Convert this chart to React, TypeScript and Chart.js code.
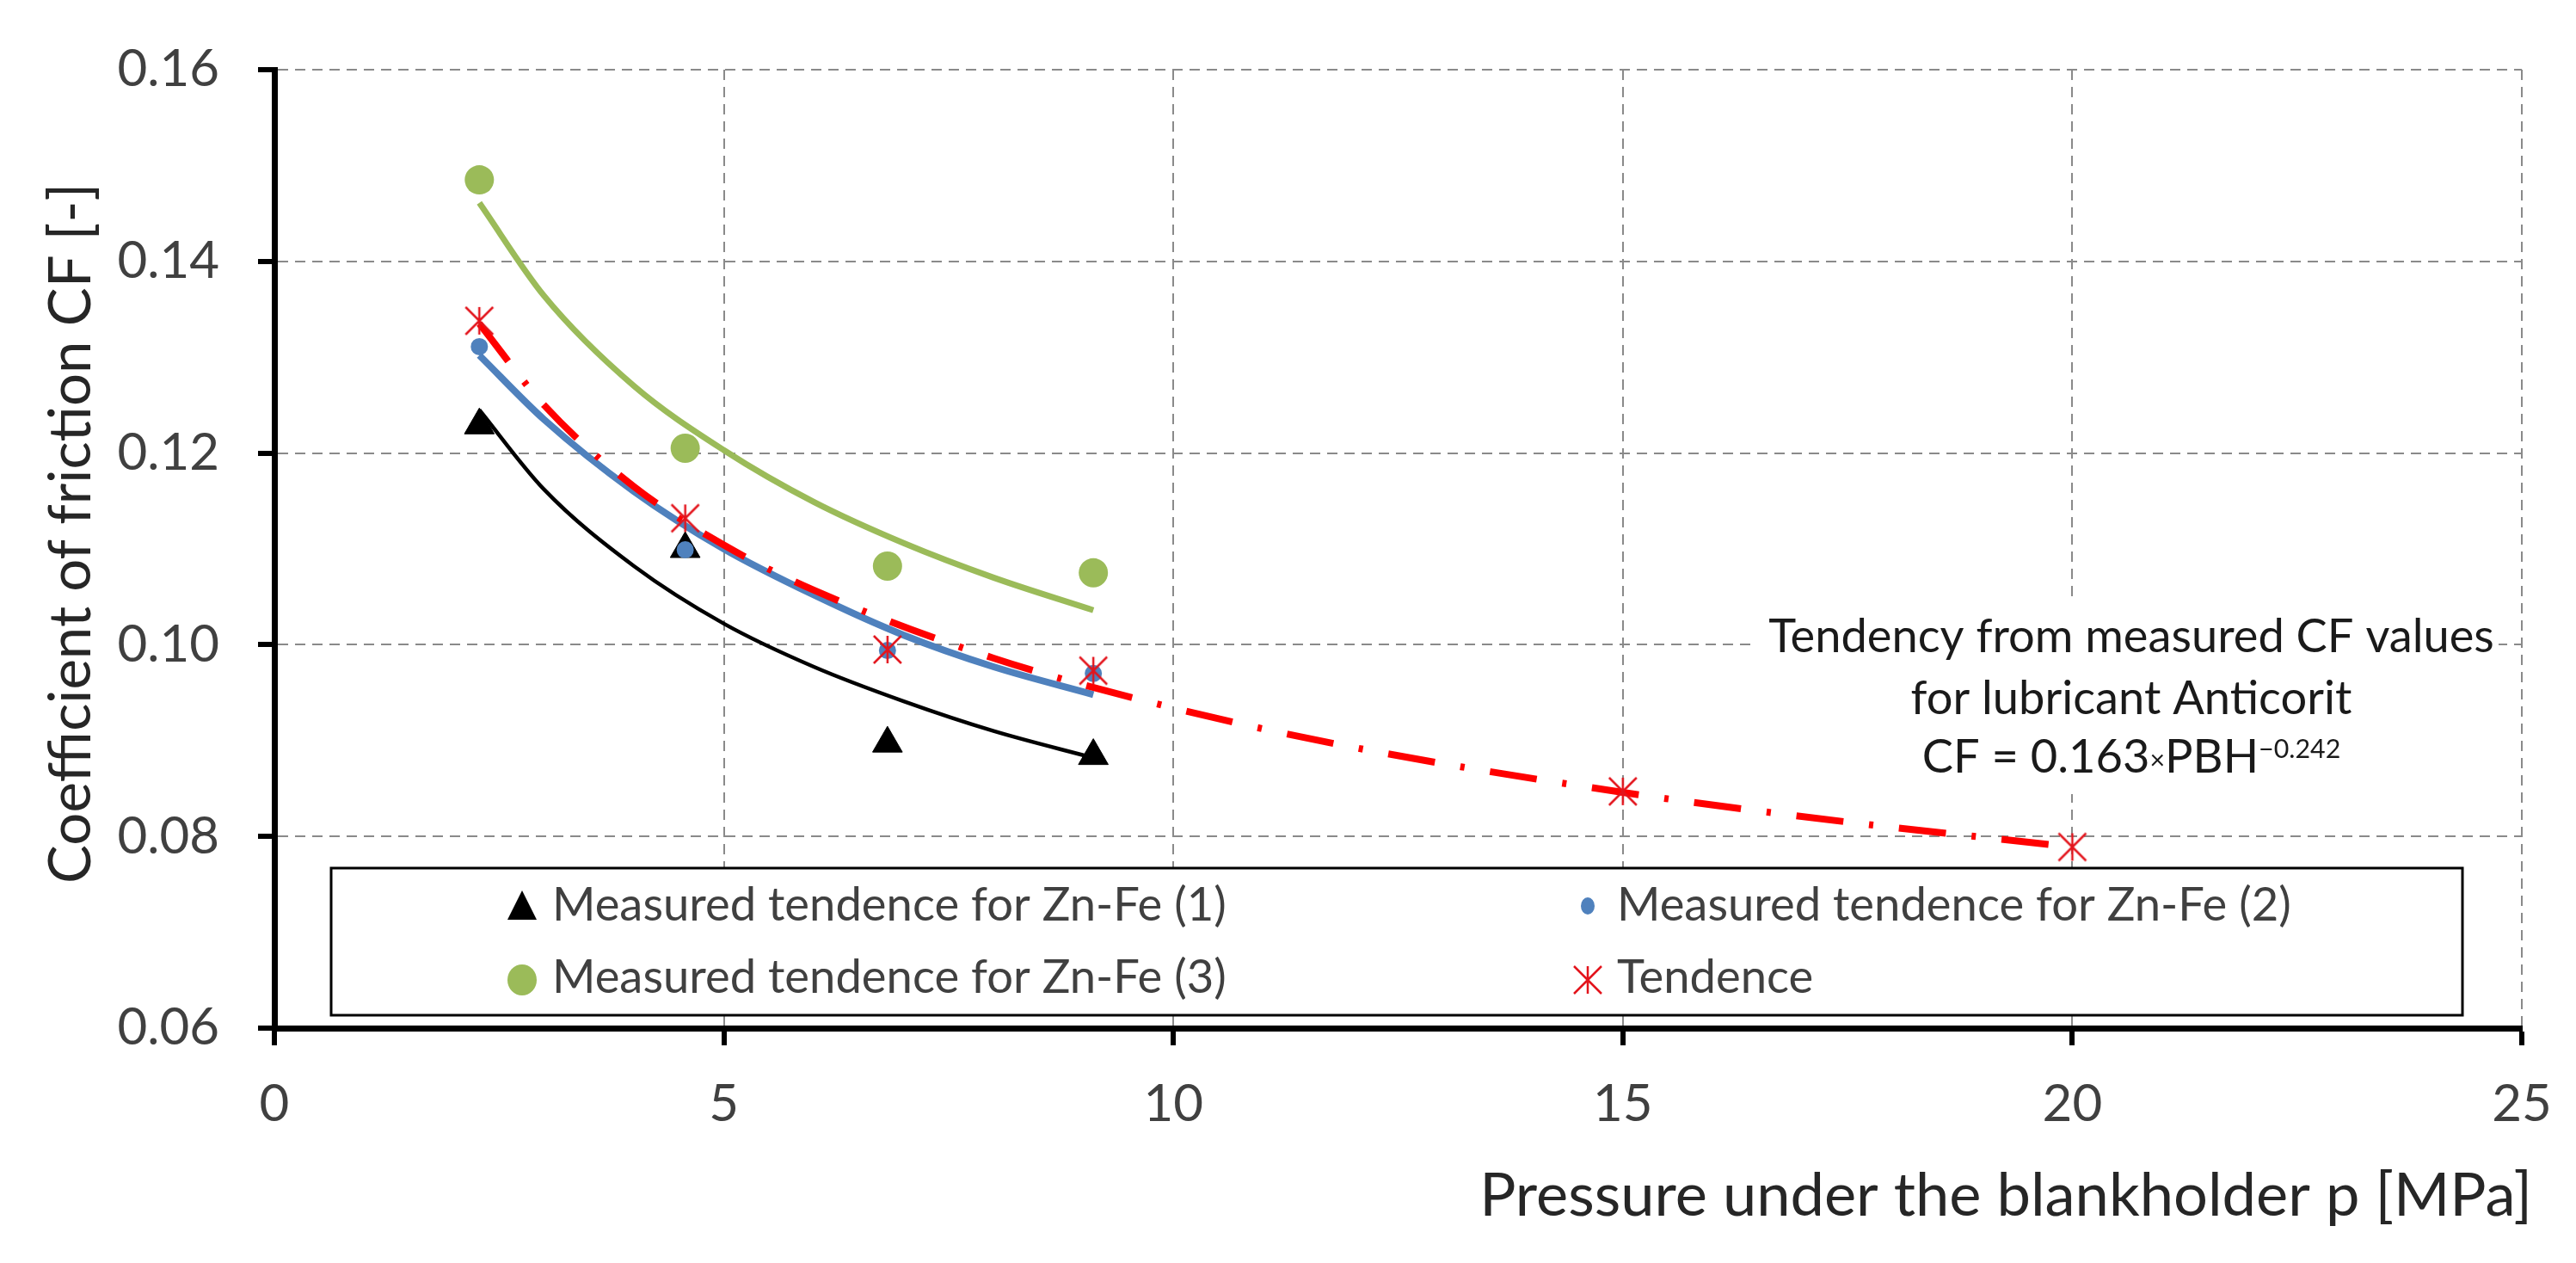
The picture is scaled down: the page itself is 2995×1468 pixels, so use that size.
import { useEffect, useRef } from "react";
import { Chart, ChartConfiguration, Plugin, registerables } from "chart.js";

Chart.register(...registerables);

const FONT = "Lato, 'Open Sans', sans-serif";

// measured CF values, pressure in MPa
const pressure = [2.28, 4.57, 6.82, 9.11];
const cfZnFe1 = [0.1229, 0.11, 0.0897, 0.0884];
const cfZnFe2 = [0.1311, 0.1099, 0.0994, 0.097];
const cfZnFe3 = [0.1485, 0.1205, 0.1082, 0.1075];

const tendencePressure = [2.28, 4.57, 6.82, 9.11, 15, 20];
const cfTendence = [0.1338, 0.1132, 0.0995, 0.0973, 0.0847, 0.0789];

// trend curves
const trendPressure = [2.28, 3, 4, 5, 6, 7, 8, 9.11];
const trendZnFe1 = [0.1245, 0.1162, 0.1082, 0.1022, 0.0977, 0.0941, 0.091, 0.0882];
const trendZnFe2 = [0.1302, 0.1235, 0.116, 0.11, 0.1052, 0.101, 0.0977, 0.0948];
const trendZnFe3 = [0.1461, 0.1364, 0.127, 0.1203, 0.1149, 0.1106, 0.107, 0.1036];
const tendenceLinePressure = [2.28, 3, 4, 5, 6, 8, 10, 12, 15, 17.5, 20];
const tendenceLine = [0.1335, 0.125, 0.1165, 0.1104, 0.1057, 0.0986, 0.0934, 0.0893, 0.0846, 0.0815, 0.0789];

const xTicks = [0, 5, 10, 15, 20, 25];
const yTicks = [0.06, 0.08, 0.1, 0.12, 0.14, 0.16];

const legendLabels = [
  "Measured tendence for Zn-Fe (1)",
  "Measured tendence for Zn-Fe (2)",
  "Measured tendence for Zn-Fe (3)",
  "Tendence",
];
const noteLines = ["Tendency from measured CF values", "for lubricant Anticorit"];
const xTitle = "Pressure under the blankholder p [MPa]";
const yTitle = "Coefficient of friction CF [-]";

const BLACK = "#000000";
const BLUE = "#4f81bd";
const GREEN = "#9bbb59";
const RED = "#ff0000";
const RED_MARK = "#e3141c";

function makeStar(size: number, color: string) {
  const c = document.createElement("canvas");
  c.width = size;
  c.height = size;
  const g = c.getContext("2d")!;
  g.strokeStyle = color;
  g.lineWidth = 2.5;
  const m = 2;
  g.beginPath();
  g.moveTo(size / 2, m);
  g.lineTo(size / 2, size - m);
  g.moveTo(m, m);
  g.lineTo(size - m, size - m);
  g.moveTo(size - m, m);
  g.lineTo(m, size - m);
  g.stroke();
  return c;
}

// font size that makes `text` about `width` px wide
function fitSize(c: CanvasRenderingContext2D, text: string, width: number) {
  c.font = `100px ${FONT}`;
  return (100 * width) / c.measureText(text).width;
}

const pts = (xs: number[], ys: number[]) => xs.map((x, i) => ({ x, y: ys[i] }));

export default function App() {
  const canvasRef = useRef<HTMLCanvasElement>(null);
  const chartRef = useRef<Chart | null>(null);

  useEffect(() => {
    if (!canvasRef.current) return;
    if (chartRef.current) chartRef.current.destroy();
    const ctx = canvasRef.current.getContext("2d");
    if (!ctx) return;

    const star = makeStar(36, RED_MARK);

    const decor: Plugin = {
      id: "decor",
      afterDatasetsDraw(chart) {
        const c = chart.ctx;
        c.save();

        // equation note
        c.fillStyle = "#fff";
        c.fillRect(2037, 693, 868, 230);
        c.fillStyle = "#1a1a1a";
        c.textBaseline = "alphabetic";
        const noteSize = fitSize(c, noteLines[0], 844);
        c.font = `${noteSize}px ${FONT}`;
        c.textAlign = "center";
        c.fillText(noteLines[0], 2478, 758);
        c.fillText(noteLines[1], 2478, 830);
        const small = noteSize * 0.56;
        const parts = [
          { t: "CF = 0.163", s: noteSize, dy: 0 },
          { t: "×", s: small, dy: -4 },
          { t: "PBH", s: noteSize, dy: 0 },
          { t: "\u22120.242", s: small, dy: -17 },
        ];
        let total = 0;
        parts.forEach((p) => {
          c.font = `${p.s}px ${FONT}`;
          total += c.measureText(p.t).width;
        });
        let px = 2478 - total / 2;
        c.textAlign = "left";
        parts.forEach((p) => {
          c.font = `${p.s}px ${FONT}`;
          c.fillText(p.t, px, 898 + p.dy);
          px += c.measureText(p.t).width;
        });

        // legend box
        c.fillStyle = "#fff";
        c.fillRect(385, 1009, 2478, 171);
        c.strokeStyle = "#000";
        c.lineWidth = 3;
        c.strokeRect(385, 1009, 2478, 171);

        const rows = [1053, 1139];
        const cols = [607, 1846];
        // triangle
        c.fillStyle = BLACK;
        c.beginPath();
        c.moveTo(cols[0], rows[0] - 18);
        c.lineTo(cols[0] + 17, rows[0] + 16);
        c.lineTo(cols[0] - 17, rows[0] + 16);
        c.closePath();
        c.fill();
        // blue dot
        c.fillStyle = BLUE;
        c.beginPath();
        c.ellipse(cols[1], rows[0], 8, 10, 0, 0, Math.PI * 2);
        c.fill();
        // green dot
        c.fillStyle = GREEN;
        c.beginPath();
        c.ellipse(cols[0], rows[1], 17, 18, 0, 0, Math.PI * 2);
        c.fill();
        // star
        c.drawImage(star, cols[1] - 18, rows[1] - 18);

        c.fillStyle = "#404040";
        c.font = `${fitSize(c, legendLabels[0], 784)}px ${FONT}`;
        c.textAlign = "left";
        c.fillText(legendLabels[0], 642, 1070);
        c.fillText(legendLabels[1], 1880, 1070);
        c.fillText(legendLabels[2], 642, 1154);
        c.fillText(legendLabels[3], 1880, 1154);

        c.restore();
      },
      afterDraw(chart) {
        const c = chart.ctx;
        c.save();
        c.fillStyle = "#262626";
        c.font = `${fitSize(c, xTitle, 1224)}px ${FONT}`;
        c.textAlign = "right";
        c.textBaseline = "alphabetic";
        c.fillText(xTitle, 2944, 1413);

        c.font = `${fitSize(c, yTitle, 814)}px ${FONT}`;
        c.translate(105, 620);
        c.rotate(-Math.PI / 2);
        c.textAlign = "center";
        c.fillText(yTitle, 0, 0);
        c.restore();
      },
    };

    const config: ChartConfiguration<"scatter"> = {
      type: "scatter",
      data: {
        datasets: [
          {
            label: legendLabels[3],
            data: pts(tendencePressure, cfTendence),
            pointStyle: star,
            pointRadius: 18,
            backgroundColor: RED_MARK,
            borderColor: RED_MARK,
          },
          {
            label: "Tendence trend",
            data: pts(tendenceLinePressure, tendenceLine),
            showLine: true,
            pointRadius: 0,
            borderColor: RED,
            borderWidth: 8,
            borderDash: [55, 30, 5, 30],
            borderCapStyle: "butt",
            cubicInterpolationMode: "monotone",
          },
          {
            label: legendLabels[1],
            data: pts(pressure, cfZnFe2),
            pointStyle: "circle",
            pointRadius: 10,
            backgroundColor: BLUE,
            borderColor: BLUE,
            borderWidth: 0,
          },
          {
            label: "Zn-Fe (2) trend",
            data: pts(trendPressure, trendZnFe2),
            showLine: true,
            pointRadius: 0,
            borderColor: BLUE,
            borderWidth: 8,
            cubicInterpolationMode: "monotone",
          },
          {
            label: legendLabels[2],
            data: pts(pressure, cfZnFe3),
            pointStyle: "circle",
            pointRadius: 17,
            backgroundColor: GREEN,
            borderColor: GREEN,
            borderWidth: 0,
          },
          {
            label: "Zn-Fe (3) trend",
            data: pts(trendPressure, trendZnFe3),
            showLine: true,
            pointRadius: 0,
            borderColor: GREEN,
            borderWidth: 7,
            cubicInterpolationMode: "monotone",
          },
          {
            label: legendLabels[0],
            data: pts(pressure, cfZnFe1),
            pointStyle: "triangle",
            pointRadius: 20,
            backgroundColor: BLACK,
            borderColor: BLACK,
            borderWidth: 1,
          },
          {
            label: "Zn-Fe (1) trend",
            data: pts(trendPressure, trendZnFe1),
            showLine: true,
            pointRadius: 0,
            borderColor: BLACK,
            borderWidth: 4.5,
            cubicInterpolationMode: "monotone",
          },
        ],
      },
      options: {
        responsive: false,
        devicePixelRatio: 1,
        animation: false,
        layout: { padding: { top: 45, right: 63, left: 0, bottom: 0 } },
        plugins: {
          legend: { display: false },
          tooltip: { enabled: false },
        },
        scales: {
          x: {
            type: "linear",
            min: 0,
            max: 25,
            afterBuildTicks: (s) => {
              s.ticks = xTicks.map((v) => ({ value: v }));
            },
            afterFit: (s) => {
              s.height = 273;
            },
            ticks: {
              color: "#404040",
              font: { family: FONT, size: 60, lineHeight: 1.4 },
              padding: 27,
              callback: (v) => String(v),
            },
            grid: {
              color: "#8a8a8a",
              lineWidth: 2,
              tickLength: 20,
              tickWidth: 6,
              tickColor: "#000",
              tickBorderDash: [],
            },
            border: { color: "#000", width: 7, dash: [12, 8] },
          },
          y: {
            type: "linear",
            min: 0.06,
            max: 0.16,
            afterBuildTicks: (s) => {
              s.ticks = yTicks.map((v) => ({ value: v }));
            },
            afterFit: (s) => {
              s.width = 319;
            },
            ticks: {
              color: "#404040",
              font: { family: FONT, size: 60 },
              padding: 45,
              callback: (v) => Number(v).toFixed(2),
            },
            grid: {
              color: "#8a8a8a",
              lineWidth: 2,
              tickLength: 19,
              tickWidth: 6,
              tickColor: "#000",
              tickBorderDash: [],
            },
            border: { color: "#000", width: 7, dash: [12, 8] },
          },
        },
      },
      plugins: [decor],
    };

    chartRef.current = new Chart(ctx, config as ChartConfiguration);

    return () => {
      if (chartRef.current) {
        chartRef.current.destroy();
        chartRef.current = null;
      }
    };
  }, []);

  return (
    <div style={{ position: "fixed", left: 0, top: 0, width: 2995, height: 1468, background: "#fff" }}>
      <canvas ref={canvasRef} width={2995} height={1468} style={{ display: "block" }} />
    </div>
  );
}
